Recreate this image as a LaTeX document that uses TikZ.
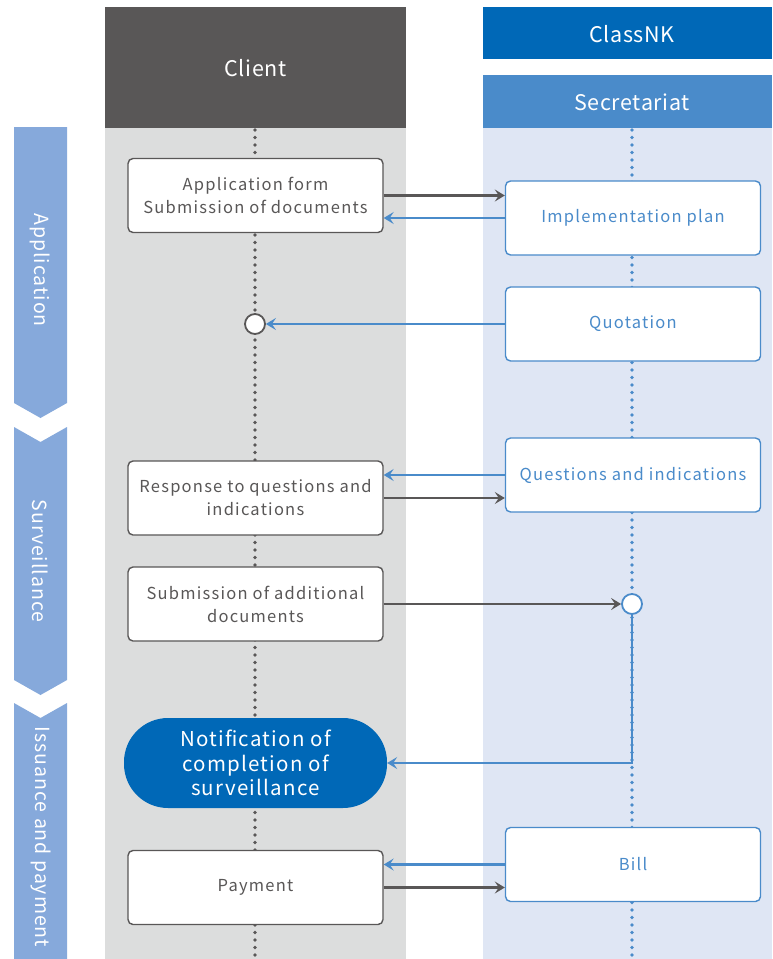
\documentclass[tikz,border=0pt]{standalone}
\usepackage{fontspec}
\setmainfont{Noto Sans CJK JP}
\newfontfamily\boxfont[LetterSpace=7.5]{Noto Sans CJK JP}
\newfontfamily\headfont[LetterSpace=3]{Noto Sans CJK JP}
\newfontfamily\phasefont[LetterSpace=5]{Noto Sans CJK JP}
\newfontfamily\pillfont[LetterSpace=6]{Noto Sans CJK JP}
\usetikzlibrary{arrows.meta}

\definecolor{darkhead}{HTML}{595757}
\definecolor{clientlane}{HTML}{DCDDDD}
\definecolor{nkblue}{HTML}{0068B7}
\definecolor{midblue}{HTML}{4A8BCA}
\definecolor{seclane}{HTML}{DFE6F4}
\definecolor{phase}{HTML}{86A9DB}
\definecolor{inkgray}{HTML}{595757}

\tikzset{
  cbox/.style={draw=inkgray, line width=1.4pt, fill=white, rounded corners=5pt,
    minimum width=255pt, minimum height=74pt, align=center, text=inkgray,
    font=\boxfont\fontsize{16.5}{23}\selectfont, inner sep=0pt},
  sbox/.style={cbox, draw=midblue, text=midblue},
  pill/.style={fill=nkblue, rounded corners=44pt, minimum width=263pt,
    minimum height=90pt, align=center, text=white,
    font=\pillfont\fontsize{20.5}{24.5}\selectfont, inner sep=0pt},
  tip/.style={-{Stealth[length=10pt,width=12pt,inset=4pt]}},
  garrow/.style={draw=inkgray, line width=2.4pt, tip},
  barrow/.style={draw=midblue, line width=2.4pt, tip},
  gdots/.style={draw=inkgray, line width=3.6pt, line cap=round, dash pattern=on 0pt off 7.5pt},
  bdots/.style={gdots, draw=midblue},
  junction/.style={circle, fill=white, line width=1.8pt, minimum size=20pt, inner sep=0pt},
  headtext/.style={text=white, font=\headfont\fontsize{21.5}{24}\selectfont},
  phasetext/.style={text=white, rotate=-90, font=\phasefont\fontsize{19.5}{22}\selectfont},
}

\begin{document}
\begin{tikzpicture}[x=1pt, y=-1pt]
\useasboundingbox (0,0) rectangle (772,959);

% swimlanes
\fill[clientlane] (105,128) rectangle (406,959);
\fill[seclane] (483,128) rectangle (772,959);
\fill[darkhead] (105,7) rectangle (406,128);
\fill[nkblue] (483,7) rectangle (772,59);
\fill[midblue] (483,75) rectangle (772,128);
\node[headtext] (hclient) at (255.5,68) {Client};
\node[headtext] (hnk) at (632,34) {ClassNK};
\node[headtext] (hsec) at (632,102) {Secretariat};

% lifelines
\coordinate (ctop) at (255,130);
\coordinate (cbot) at (255,959);
\coordinate (stop) at (632,130);
\coordinate (sbot) at (632,959);
\draw[gdots] (ctop) -- (cbot);
\draw[bdots] (stop) -- (sbot);

% phase banners
\fill[phase] (14,127) -- (67,127) -- (67,403) -- (40.5,418) -- (14,403) -- cycle;
\fill[phase] (14,427) -- (40.5,442) -- (67,427) -- (67,680) -- (40.5,695) -- (14,680) -- cycle;
\fill[phase] (14,703) -- (40.5,718) -- (67,703) -- (67,959) -- (14,959) -- cycle;
\node[phasetext] (p1) at (40.5,270) {Application};
\node[phasetext] (p2) at (40.5,561) {Surveillance};
\node[phasetext] (p3) at (40.5,837) {Issuance and payment};

% client side
\node[cbox] (app) at (255.5,195.5) {Application form\\Submission of documents};
\node[junction, draw=inkgray] (c1) at (255,324) {};
\node[cbox] (resp) at (255.5,498) {Response to questions and\\indications};
\node[cbox] (sub) at (255.5,604) {Submission of additional\\documents};
\node[pill] (notif) at (255.5,763) {Notification of\\completion of\\surveillance};
\node[cbox] (pay) at (255.5,887.5) {Payment};

% secretariat side
\node[sbox] (impl) at (633,218) {Implementation plan};
\node[sbox] (quot) at (633,324) {Quotation};
\node[sbox] (qi) at (633,475) {Questions and indications};
\node[junction, draw=midblue] (c2) at (632,604) {};
\node[sbox] (bill) at (633,864.5) {Bill};

% message flows
\draw[garrow] (app.east) -- (app.east -| impl.west);
\draw[barrow] (impl.west) -- (impl.west -| app.east);
\draw[barrow] (quot.west) -- (c1.east);
\draw[barrow] (qi.west) -- (qi.west -| resp.east);
\draw[garrow] (resp.east) -- (resp.east -| qi.west);
\draw[garrow] (sub.east) -- (c2.west);
\draw[barrow] (c2.south) |- (notif.east);
\draw[barrow] (bill.west) -- (bill.west -| pay.east);
\draw[garrow] (pay.east) -- (pay.east -| bill.west);
\end{tikzpicture}
\end{document}
